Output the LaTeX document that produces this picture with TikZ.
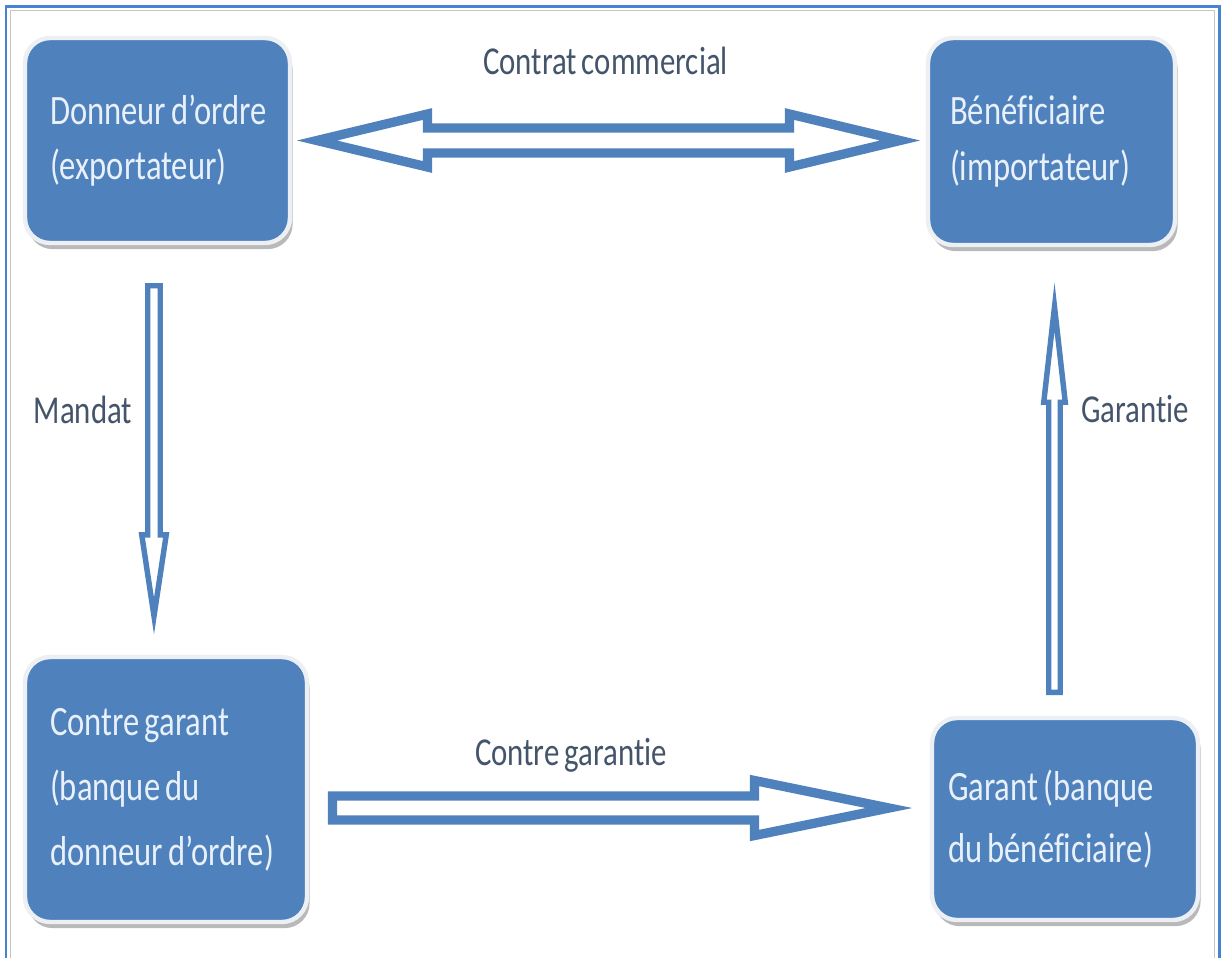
\documentclass[tikz,border=0pt]{standalone}
\usepackage{fontspec}
\setmainfont{Carlito}[FakeStretch=0.78, WordSpace=0.72, Ligatures=NoCommon]
\usetikzlibrary{calc,shadows}
\definecolor{boxblue}{RGB}{79,129,189}
\definecolor{frameblue}{RGB}{70,132,208}
\definecolor{boxtext}{RGB}{232,240,250}
\definecolor{labtext}{RGB}{68,84,106}
\definecolor{rimgray}{RGB}{236,239,243}

\tikzset{
  box/.style={fill=boxblue, draw=rimgray, line width=2.5pt, rounded corners=0.5cm,
    drop shadow={shadow xshift=1.5pt, shadow yshift=-3.5pt, opacity=0.55, fill=black!50},
    text=boxtext, align=flush left, inner ysep=0pt, outer sep=0pt,
    font=\fontsize{23.8}{31.5}\selectfont},
  lab/.style={text=labtext, font=\fontsize{22.5}{27}\selectfont, inner sep=0pt},
  wideshaft/.style={draw=boxblue, line width=5.3pt, miter limit=25, fill=white},
  thinshaft/.style={draw=boxblue, line width=3.1pt, miter limit=25, fill=white}
}

\begin{document}
\begin{tikzpicture}[x=0.02cm, y=-0.02cm]
  \useasboundingbox (0,0) rectangle (1224,958);
  \fill[white] (0,0) rectangle (1224,958);

  % outer frame, open at the bottom
  \draw[frameblue, line width=1.7pt] (6,958) -- (6,6) -- (1219,6) -- (1219,958);
  \draw[gray!45, line width=0.5pt] (10.5,958) -- (10.5,10.5) -- (1214.5,10.5) -- (1214.5,958);

  % the four parties
  \node[box, minimum width=5.3cm, minimum height=4.1cm, text width=4.3cm, inner xsep=0.5cm]
    (don) at (157.5,140.5) {\mbox{Donneur d’ordre}\\(exportateur)};
  \node[box, minimum width=4.94cm, minimum height=4.14cm, text width=4.06cm, inner xsep=0.44cm]
    (ben) at (1051.5,141.5) {Bénéficiaire\\(importateur)};
  \node[box, minimum width=5.64cm, minimum height=5.3cm, text width=4.64cm, inner xsep=0.5cm,
        font=\fontsize{23.8}{37}\selectfont]
    (cg) at (166,789.5) {Contre garant\\(banque du\\\mbox{donneur d’ordre)}};
  \node[box, minimum width=5.32cm, minimum height=4.04cm, text width=4.68cm, inner xsep=0.32cm,
        font=\fontsize{23.8}{35}\selectfont]
    (gar) at (1065,819) {\mbox{Garant (banque}\\\mbox{du bénéficiaire)}};

  % commercial contract: two-headed hollow arrow
  \coordinate (tl) at ($(don.east)+(7,0)$);
  \coordinate (tr) at ($(don.east -| ben.west)+(-8,0)$);
  \draw[wideshaft] ($(tl)+(20,0)$) -- ($(tl)+(130.5,-26.5)$) -- ($(tl)+(130.5,-12.5)$)
    -- ($(tr)+(-130.5,-12.5)$) -- ($(tr)+(-130.5,-26.5)$) -- ($(tr)+(-20,0)$)
    -- ($(tr)+(-130.5,26.5)$) -- ($(tr)+(-130.5,12.5)$) -- ($(tl)+(130.5,12.5)$)
    -- ($(tl)+(130.5,26.5)$) -- cycle;
  \node[lab] (lcc) at ($(tl)!0.5!(tr)+(-3,-80)$) {Contrat commercial};

  % mandate: principal to counter-guarantor
  \coordinate (mt) at ($(don.south)+(-3.5,40)$);
  \coordinate (mb) at ($(mt |- cg.north)+(0,-22)$);
  \draw[thinshaft] ($(mt)+(-6.25,2.75)$) -- ($(mt)+(6.25,2.75)$) -- ($(mb)+(6.25,-100.25)$)
    -- ($(mb)+(12.25,-100.25)$) -- ($(mb)+(0,-19)$) -- ($(mb)+(-12.25,-100.25)$)
    -- ($(mb)+(-6.25,-100.25)$) -- cycle;
  \node[lab] (lman) at ($(mt)+(-71,127)$) {Mandat};

  % guarantee: guarantor to beneficiary
  \coordinate (gt) at ($(ben.south)+(3,37)$);
  \coordinate (gb) at ($(gt |- gar.north)+(0,-23)$);
  \draw[thinshaft] ($(gb)+(-5.75,-2.75)$) -- ($(gb)+(5.75,-2.75)$) -- ($(gt)+(5.75,120.25)$)
    -- ($(gt)+(10.75,120.25)$) -- ($(gt)+(0,25)$) -- ($(gt)+(-10.75,120.25)$)
    -- ($(gt)+(-5.75,120.25)$) -- cycle;
  \node[lab] (lgar) at ($(gt)+(80.5,127.5)$) {Garantie};

  % counter-guarantee: counter-guarantor to guarantor
  \coordinate (cl) at ($(cg.east)+(21,18.5)$);
  \coordinate (cr) at ($(cl -| gar.west)+(-20,0)$);
  \draw[wideshaft] ($(cl)+(4.5,-12)$) -- ($(cr)+(-157.5,-12)$) -- ($(cr)+(-157.5,-27.5)$)
    -- ($(cr)+(-23,0)$) -- ($(cr)+(-157.5,27.5)$) -- ($(cr)+(-157.5,12)$)
    -- ($(cl)+(4.5,12)$) -- cycle;
  \node[lab] (lcg) at ($(cl)+(243,-53)$) {Contre garantie};
\end{tikzpicture}
\end{document}
